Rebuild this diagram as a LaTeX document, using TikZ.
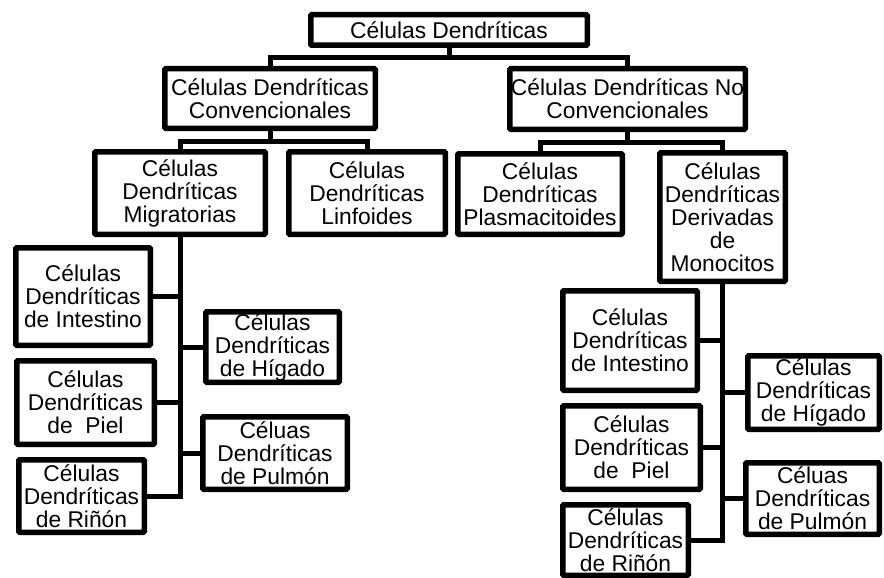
\documentclass[tikz,border=0pt]{standalone}
\usepackage{fontspec}
\setmainfont{Liberation Sans}
\tikzset{
  box/.style={draw=black, line width=5.5pt, fill=white, align=center, inner sep=0pt,
    font=\fontsize{22.8}{23}\selectfont, rounded corners=1pt},
  conn/.style={draw=black, line width=5pt, line join=miter}
}
\newcommand\mkbox[6]{\node[box, minimum width={(#4-#2-5.5)*1pt}, minimum height={(#5-#3-5.5)*1pt}] (#1) at ({(#2+#4)/2},{(#3+#5)/2}) {#6};}
\begin{document}
\begin{tikzpicture}[x=1pt,y=-1pt]
\useasboundingbox (0,0) rectangle (884,578);
\mkbox{top}{308}{12}{590}{48}{Células Dendríticas}
\mkbox{conv}{162}{66}{378}{131}{Células Dendríticas\\Convencionales}
\mkbox{noconv}{507}{66}{748}{132}{Células Dendríticas No\\Convencionales}
\mkbox{migr}{92}{149}{268}{237}{Células\\Dendríticas\\Migratorias}
\mkbox{linf}{286}{149}{448}{237}{Células\\Dendríticas\\Linfoides}
\mkbox{plas}{455}{151}{625}{237}{Células\\Dendríticas\\Plasmacitoides}
\mkbox{mono}{657}{150}{788}{284}{Células\\Dendríticas\\Derivadas\\de\\Monocitos}
% left children
\mkbox{intL}{13}{245}{153}{348}{Células\\Dendríticas\\de Intestino}
\mkbox{higL}{203}{309}{342}{385}{Células\\Dendríticas\\de Hígado}
\mkbox{pielL}{14}{358}{157}{447}{Células\\Dendríticas\\de\ \ Piel}
\mkbox{pulL}{200}{414}{350}{492}{Céluas\\Dendríticas\\de Pulmón}
\mkbox{rinL}{16}{457}{147}{535}{Células\\Dendríticas\\de Riñón}
% right children
\mkbox{intR}{560}{288}{700}{393}{Células\\Dendríticas\\de Intestino}
\mkbox{higR}{745}{353}{882}{432}{Células\\Dendríticas\\de Hígado}
\mkbox{pielR}{560}{403}{703}{492}{Células\\Dendríticas\\de\ \ Piel}
\mkbox{pulR}{743}{460}{882}{537}{Céluas\\Dendríticas\\de Pulmón}
\mkbox{rinR}{560}{502}{691}{578}{Células\\Dendríticas\\de Riñón}
% bus levels
\coordinate (b1) at (0,58);
\coordinate (b2) at (0,141);
\coordinate (b3) at (0,142);
\draw[conn] (top.south) -- (top.south |- b1);
\draw[conn] (conv.north) -- (conv.north |- b1) -- (noconv.north |- b1) -- (noconv.north);
\draw[conn] (conv.south) -- (conv.south |- b2);
\draw[conn] (migr.north) -- (migr.north |- b2) -- (linf.north |- b2) -- (linf.north);
\draw[conn] (noconv.south) -- (noconv.south |- b3);
\draw[conn] (plas.north) -- (plas.north |- b3) -- (mono.north |- b3) -- (mono.north);
% left trunk
\draw[conn] (migr.south) -- (migr.south |- rinL.east) -- (rinL.east);
\draw[conn] (intL.east) -- (intL.east -| migr.south);
\draw[conn] (higL.west) -- (higL.west -| migr.south);
\draw[conn] (pielL.east) -- (pielL.east -| migr.south);
\draw[conn] (pulL.west) -- (pulL.west -| migr.south);
% right trunk
\draw[conn] (mono.south) -- (mono.south |- rinR.east) -- (rinR.east);
\draw[conn] (intR.east) -- (intR.east -| mono.south);
\draw[conn] (higR.west) -- (higR.west -| mono.south);
\draw[conn] (pielR.east) -- (pielR.east -| mono.south);
\draw[conn] (pulR.west) -- (pulR.west -| mono.south);
\end{tikzpicture}
\end{document}
